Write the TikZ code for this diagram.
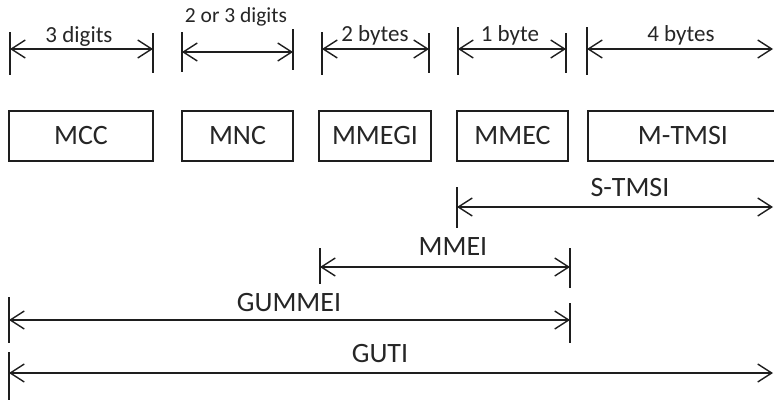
\documentclass[tikz,border=0pt]{standalone}
\usepackage{fontspec}
\setmainfont{Carlito}
\usetikzlibrary{arrows.meta}
\definecolor{txt}{HTML}{262626}
\definecolor{ink}{HTML}{1E1E1E}
\begin{document}
\begin{tikzpicture}[x=1pt,y=-1pt,
  field/.style={draw=ink, line width=1.5pt, minimum height=50pt, inner sep=0pt,
    font=\fontsize{28}{32}\selectfont, text=txt},
  tick/.style={draw=ink, line width=1.5pt},
  span/.style={draw=ink, line width=1.4pt,
    {Straight Barb[length=14pt,width=18pt]}-{Straight Barb[length=14pt,width=18pt]}},
  sizelbl/.style={anchor=base, inner sep=0pt, text=txt, font=\fontsize{23}{26}\selectfont},
  smalllbl/.style={anchor=base, inner sep=0pt, text=txt, font=\fontsize{21.5}{24}\selectfont},
  idlbl/.style={anchor=base, inner sep=0pt, text=txt, font=\fontsize{28}{32}\selectfont}]

\useasboundingbox (0,0) rectangle (774,402);
\fill[white] (0,0) rectangle (774,402);
\clip (0,0) rectangle (774,402);

% ---- the GUTI fields ----
\node[field, minimum width=144pt] (mcc)   at (81,136)    {MCC};
\node[field, minimum width=111pt] (mnc)   at (237.5,136) {MNC};
\node[field, minimum width=112pt] (mmegi) at (375,136)   {MMEGI};
\node[field, minimum width=111pt] (mmec)  at (512.5,136) {MMEC};
\node[field, minimum width=190pt] (mtmsi) at (683,136)   {M-TMSI};

% ---- field sizes ----
% 3 digits
\coordinate (a1) at (10,49);  \coordinate (a2) at (153,49);
\draw[tick] (10,32) -- (10,75);   \draw[tick] (153,33) -- (153,73);
\draw[span] (a1) -- (a2);
\node[sizelbl] (l1) at (79,42) {3 digits};

% 2 or 3 digits
\coordinate (b1) at (182,52); \coordinate (b2) at (293,52);
\draw[tick] (182,32) -- (182,72); \draw[tick] (293,29) -- (293,70);
\draw[span] (b1) -- (b2);
\node[smalllbl] (l2) at (236,22) {2 or 3 digits};

% 2 bytes
\coordinate (c1) at (322,49); \coordinate (c2) at (429,49);
\draw[tick] (322,32) -- (322,75); \draw[tick] (429,33) -- (429,73);
\draw[span] (c1) -- (c2);
\node[sizelbl] (l3) at (375,41) {2 bytes};

% 1 byte
\coordinate (d1) at (458,49); \coordinate (d2) at (566,49);
\draw[tick] (458,27) -- (458,75); \draw[tick] (566,33) -- (566,73);
\draw[span] (d1) -- (d2);
\node[sizelbl] (l4) at (510,41) {1 byte};

% 4 bytes
\coordinate (e1) at (587,49); \coordinate (e2) at (773,49);
\draw[tick] (587,27) -- (587,75);
\draw[span] (e1) -- (e2);
\node[sizelbl] (l5) at (681,41) {4 bytes};

% ---- composite identities ----
% S-TMSI
\coordinate (s1) at (457,207); \coordinate (s2) at (773,207);
\draw[tick] (457,187) -- (457,228);
\draw[span] (s1) -- (s2);
\node[idlbl] (ls) at (630,196) {S-TMSI};

% MMEI
\coordinate (m1) at (320,267); \coordinate (m2) at (570,267);
\draw[tick] (320,248) -- (320,284); \draw[tick] (570,248) -- (570,288);
\draw[span] (m1) -- (m2);
\node[idlbl] (lm) at (453,255) {MMEI};

% GUMMEI
\coordinate (g1) at (9,320); \coordinate (g2) at (570,320);
\draw[tick] (9,297) -- (9,343); \draw[tick] (570,303) -- (570,343);
\draw[span] (g1) -- (g2);
\node[idlbl] (lg) at (289,311) {GUMMEI};

% GUTI
\coordinate (t1) at (9,373); \coordinate (t2) at (773,373);
\draw[tick] (9,352) -- (9,400);
\draw[span] (t1) -- (t2);
\node[idlbl] (lt) at (380,362) {GUTI};
\end{tikzpicture}
\end{document}
